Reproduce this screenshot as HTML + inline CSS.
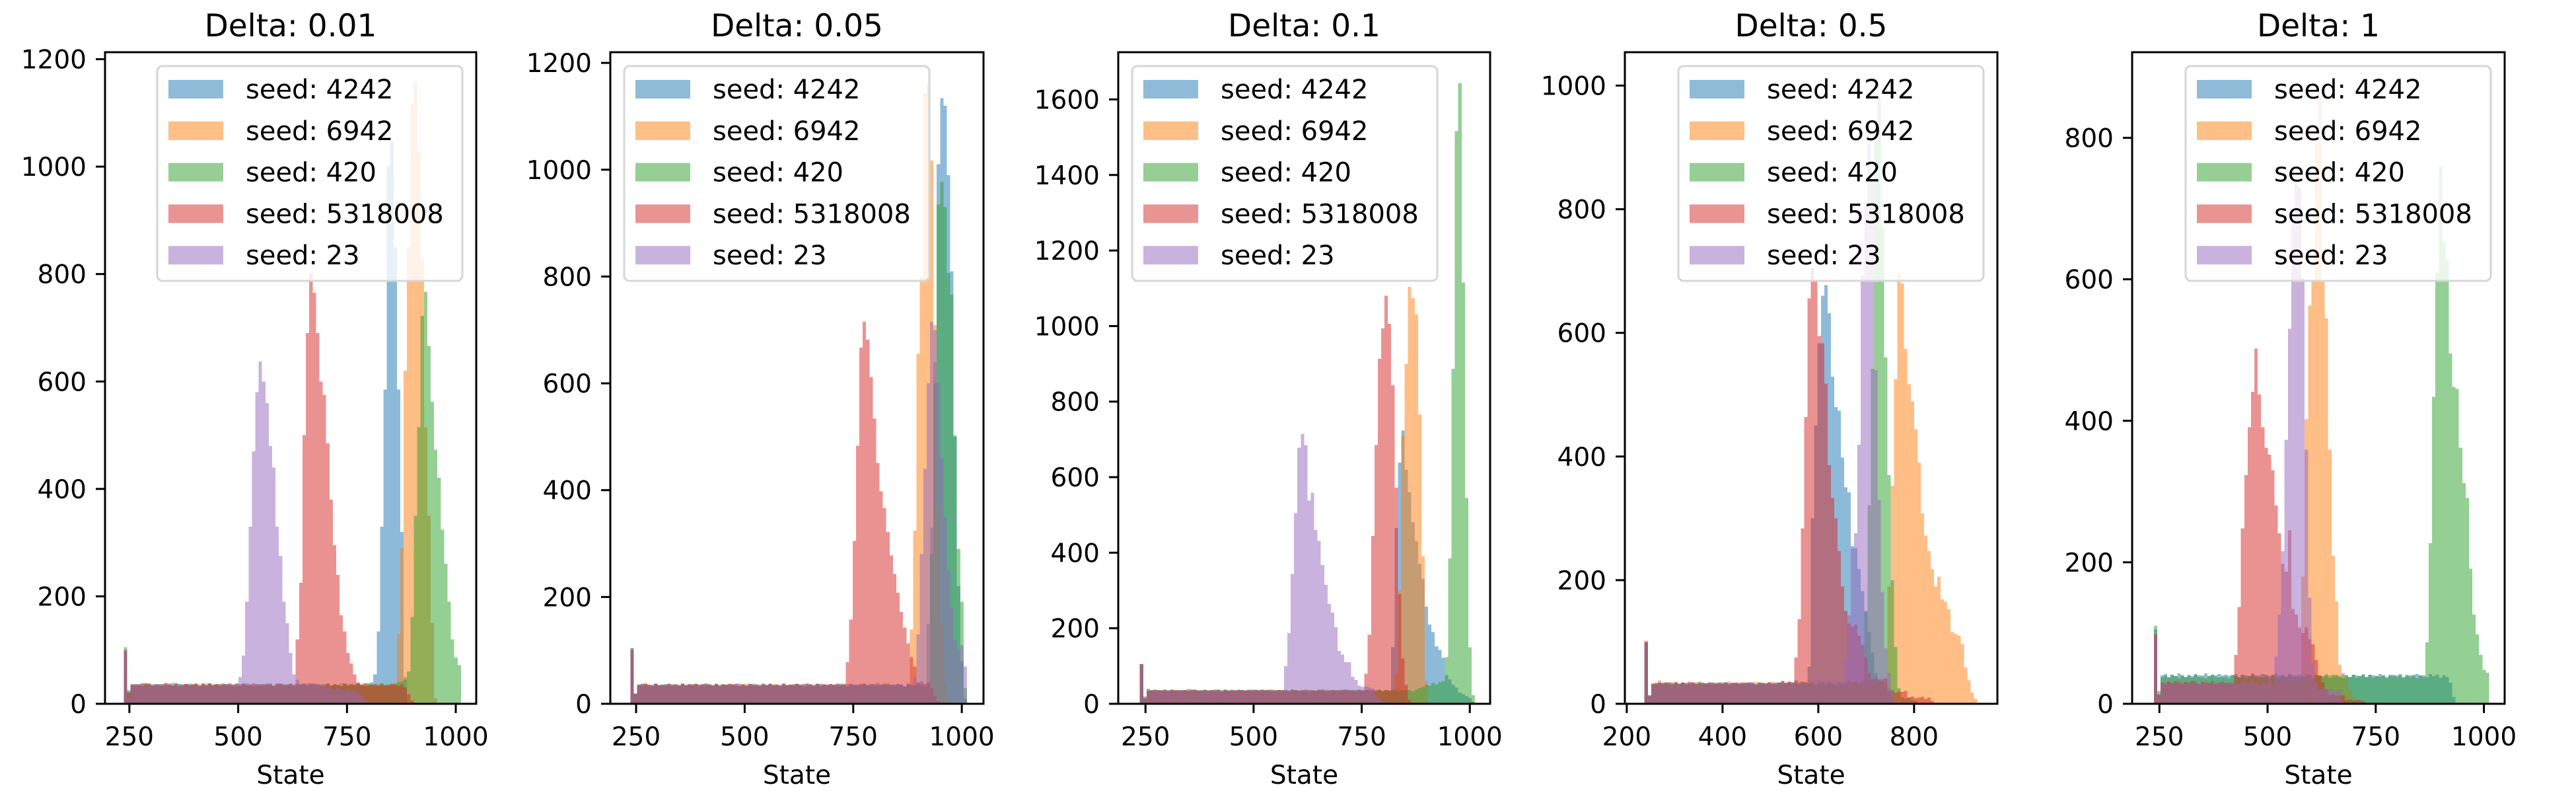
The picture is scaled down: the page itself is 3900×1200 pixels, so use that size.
<!DOCTYPE html>
<html><head><meta charset="utf-8"><style>
html,body{margin:0;padding:0;background:#fff;}
svg{display:block;font-family:"DejaVu Sans","Liberation Sans",sans-serif;}
</style></head><body>
<svg id="chart" width="3900" height="1200" viewBox="0 0 3900 1200" xmlns="http://www.w3.org/2000/svg"></svg>
<script>
const seedLabels = ['seed: 4242','seed: 6942','seed: 420','seed: 5318008','seed: 23'];
const panelTitles = ['Delta: 0.01','Delta: 0.05','Delta: 0.1','Delta: 0.5','Delta: 1'];
const p1Ticks = [0,200,400,600,800,1000,1200];
const p2Ticks = [0,200,400,600,800,1000,1200];
const p3Ticks = [0,200,400,600,800,1000,1200,1400,1600];
const p4Ticks = [0,200,400,600,800,1000];
const p5Ticks = [0,200,400,600,800];
const xTicksA = [250,500,750,1000];
const xTicksB = [200,400,600,800];
const binRange1 = [237,1012];
const binRange2 = [237,1012];
const binRange3 = [237,1012];
const binRange4 = [237,932];
const binRange5 = [237,1012];

// Delta 0.01
const p1_4242 = [95,25,36,33,35,38,34,36,33,37, 35,34,38,36,33,35,37,34,36,35, 33,37,34,36,35,38,33,35,36,34, 37,35,33,36,34,38,35,36,33,37, 34,36,35,38,33,35,37,34,36,35, 33,37,36,34,35,38,34,36,33,35, 37,34,36,35,33,38,35,34,36,37, 35,33,38,40,55,135,330,585,1000,1047, 850,585,320,50,0,0,0,0,0,0, 0,0,0,0,0,0,0,0,0,0];
const p1_6942 = [100,18,37,35,34,36,39,33,35,36, 34,36,33,38,35,37,34,36,35,33, 37,34,36,35,38,33,36,34,37,35, 33,36,35,37,34,38,35,33,36,34, 36,35,38,33,35,37,34,36,35,38, 34,36,33,37,35,34,38,36,33,35, 37,34,36,35,38,33,35,37,34,36, 35,38,33,36,34,37,35,33,36,38, 40,130,290,620,850,1117,1156,1028,826,515, 350,150,10,0,0,0,0,0,0,0];
const p1_420 = [105,22,34,37,35,33,38,36,34,35, 37,33,36,35,39,34,36,33,37,35, 35,38,34,36,33,37,35,36,34,38, 36,33,35,37,34,36,38,35,33,36, 35,37,34,36,33,38,35,36,34,37, 33,36,35,38,34,35,37,33,36,35, 38,34,36,35,33,37,35,36,34,38, 35,33,37,36,34,35,38,34,36,35, 37,40,42,45,60,162,350,515,722,767, 666,562,473,421,324,261,190,120,86,72];
const p1_5318008 = [98,20,35,34,37,33,36,38,34,35, 33,37,35,36,34,39,32,35,37,34, 36,35,33,38,34,36,35,37,33,36, 34,38,35,33,37,36,34,35,38,33, 36,34,37,35,33,36,38,34,35,37, 36,120,225,500,690,800,765,690,600,575, 485,380,295,240,165,135,95,75,55,40, 36,38,34,35,37,33,36,35,34,37, 35,33,36,30,18,6,0,0,0,0, 0,0,0,0,0,0,0,0,0,0];
const p1_23 = [100,12,33,36,34,38,32,35,37,34, 36,33,39,35,34,37,32,36,35,38, 34,36,33,37,35,39,34,32,36,35, 37,34,36,38,50,90,190,330,470,580, 637,600,560,480,440,330,275,190,150,95, 55,45,36,34,38,33,35,37,32,36, 30,28,26,29,27,25,28,24,26,22, 14,8,0,0,0,0,0,0,0,0, 0,0,0,0,0,0,0,0,0,0, 0,0,0,0,0,0,0,0,0,0];

// Delta 0.05
const p2_4242 = [104,20,35,38,34,36,33,37,35,36, 34,37,33,36,35,38,32,36,35,37, 36,33,38,35,34,37,35,33,36,35, 35,38,34,36,33,37,35,36,34,38, 34,37,33,36,35,38,32,36,35,37, 36,33,38,35,34,37,35,33,36,35, 35,38,34,36,33,37,35,36,34,38, 34,37,33,36,35,38,32,36,35,37, 36,33,38,35,34,37,35,33,150,330, 640,1010,1134,1120,990,810,500,220,80,10];
const p2_6942 = [100,16,36,34,37,35,33,38,34,36, 35,33,37,36,34,38,35,33,36,37, 34,36,35,38,33,37,34,36,35,33, 37,35,34,36,38,33,35,37,34,36, 36,34,37,33,35,38,36,34,35,37, 33,36,35,38,34,36,33,37,35,34, 36,38,35,33,37,34,36,35,38,33, 35,37,34,36,33,38,35,36,34,37, 36,33,38,139,324,655,800,1143,1160,1017, 709,370,150,40,5,0,0,0,0,0];
const p2_420 = [104,18,34,36,38,33,35,37,34,36, 37,34,36,33,35,38,34,36,37,35, 33,36,38,35,34,36,33,37,35,38, 36,35,33,37,34,36,38,35,33,36, 34,37,35,36,33,38,34,35,37,36, 35,33,37,36,34,35,38,36,33,37, 34,36,35,38,33,37,35,34,36,38, 35,34,37,33,36,35,38,34,36,35, 36,33,38,35,34,37,35,33,36,280, 600,935,977,930,807,766,503,290,191,30];
const p2_5318008 = [100,18,36,33,38,35,34,37,35,33, 35,38,34,36,33,37,35,36,34,38, 34,37,33,36,35,38,32,36,35,37, 36,33,38,35,34,37,35,33,36,35, 35,38,34,36,33,37,35,36,34,38, 34,37,33,36,35,38,32,36,35,37, 36,33,38,35,78,158,305,483,667,715, 682,612,534,451,398,366,322,278,243,208, 172,143,113,87,70,40,42,38,40,30, 15,5,0,0,0,0,0,0,0,0];
const p2_23 = [102,15,34,37,33,36,35,38,32,36, 35,37,34,37,33,36,35,38,32,36, 36,33,38,35,34,37,35,33,36,35, 35,38,34,36,33,37,35,36,34,38, 34,37,33,36,35,38,32,36,35,37, 36,33,38,35,34,37,35,33,36,35, 35,38,34,36,33,37,35,36,34,38, 34,37,33,40,35,38,32,36,35,37, 36,33,38,35,50,130,280,440,600,715, 700,600,460,350,250,180,120,100,110,70];

// Delta 0.1
const p3_4242 = [105,16,36,34,37,33,35,38,34,36, 35,33,37,36,34,38,35,33,36,37, 34,36,35,38,33,37,34,36,35,33, 37,35,34,36,38,33,35,37,34,36, 36,34,37,33,35,38,36,34,35,37, 33,36,35,38,34,36,33,37,35,34, 36,38,35,33,37,34,36,35,38,33, 34,37,33,36,35,150,465,639,723,619, 560,480,430,371,331,257,210,190,152,143, 122,76,65,50,43,30,25,20,15,5];
const p3_6942 = [106,14,35,37,34,36,33,38,35,34, 37,35,33,36,34,38,36,35,33,37, 34,36,38,35,33,37,35,34,36,38, 35,33,37,36,34,35,38,33,36,35, 37,34,36,35,33,38,34,36,37,35, 33,36,35,37,34,38,35,33,36,34, 36,35,38,34,33,37,35,36,34,38, 34,37,33,36,35,38,80,300,709,900, 1104,1074,1031,766,390,60,0,0,0,0, 0,0,0,0,0,0,0,0,0,0];
const p3_420 = [104,20,40,36,38,35,37,34,36,38, 35,37,34,36,39,35,37,36,34,38, 36,35,38,34,37,36,35,38,34,36, 37,35,36,38,34,37,35,36,38,34, 36,37,35,38,34,36,37,35,36,38, 34,36,35,37,38,34,36,35,37,36, 38,34,36,37,35,38,34,36,35,37, 36,38,34,37,35,36,38,34,36,35, 36,33,38,42,45,50,48,55,52,58, 60,123,385,887,1516,1643,1115,545,150,23];
const p3_5318008 = [105,14,34,36,33,37,35,36,34,38, 36,34,35,37,33,36,38,35,34,36, 35,37,34,36,33,38,35,34,36,37, 34,36,35,33,37,35,38,34,36,35, 33,37,35,36,34,38,35,33,36,34, 37,35,34,36,38,33,35,37,34,36, 35,38,34,36,33,37,35,80,183,444, 685,913,994,1080,1006,843,572,290,120,50, 10,0,0,0,0,0,0,0,0,0, 0,0,0,0,0,0,0,0,0,0];
const p3_23 = [105,14,35,33,37,36,34,38,35,36, 33,37,35,34,36,38,33,35,37,36, 34,36,35,38,33,37,36,34,35,37, 36,33,38,35,34,37,35,36,34,38, 35,37,34,100,187,344,505,678,715,685, 538,559,460,431,367,315,264,241,203,140, 130,110,110,72,63,48,45,46,44,40, 22,15,8,0,0,0,0,0,0,0, 0,0,0,0,0,0,0,0,0,0, 0,0,0,0,0,0,0,0,0,0];

// Delta 0.5
const p4_4242 = [100,14,30,33,31,34,32,35,30,33, 32,34,31,33,35,30,32,34,33,31, 34,32,30,33,35,31,34,32,33,30, 33,35,31,32,34,30,33,35,32,34, 34,37,33,36,35,38,32,36,35,60, 300,450,583,660,677,632,529,480,474,398, 350,342,255,252,218,182,149,116,83,50, 40,35,30,25,10,0,0,0,0,0, 0,0,0,0,0,0,0,0,0,0, 0,0,0,0,0,0,0,0,0,0];
const p4_6942 = [102,12,32,34,38,31,33,35,32,36, 31,34,33,36,32,35,30,34,33,32, 35,31,34,33,32,36,31,33,35,32, 34,30,33,35,31,34,32,33,36,31, 33,35,32,34,31,33,36,32,34,33, 35,31,33,34,32,35,33,31,34,33, 32,34,36,31,33,35,32,34,33,31, 34,37,40,190,353,525,697,680,574,517, 489,444,390,308,272,247,218,190,206,169, 165,153,116,113,110,97,59,38,18,8];
const p4_420 = [100,14,31,33,34,32,35,31,33,34, 32,35,33,31,34,32,36,33,31,34, 33,32,35,31,34,33,32,34,31,35, 32,34,33,31,35,32,33,34,31,33, 35,32,34,33,31,34,32,35,33,32, 34,31,33,35,32,34,33,31,34,33, 35,38,34,36,33,37,150,321,542,910, 980,770,560,370,200,92,25,10,8,10, 6,5,0,0,0,0,0,0,0,0, 0,0,0,0,0,0,0,0,0,0];
const p4_5318008 = [100,12,33,31,34,32,35,33,31,34, 32,34,31,35,33,32,34,31,33,35, 31,34,33,32,35,31,33,34,32,33, 34,32,35,31,33,34,32,35,33,31, 34,37,33,36,35,75,137,284,464,656, 705,685,595,583,518,386,333,300,247,190, 150,130,125,128,110,95,75,50,40,42, 38,40,41,20,22,18,20,19,21,10, 12,9,10,11,8,10,5,0,0,0, 0,0,0,0,0,0,0,0,0,0];
const p4_23 = [100,10,30,33,32,34,31,33,35,32, 33,31,34,32,35,33,31,34,32,33, 34,32,31,35,33,32,34,31,33,34, 32,35,33,31,34,32,33,35,31,34, 33,32,34,31,35,33,32,34,33,31, 36,33,38,35,34,37,35,33,36,35, 75,143,251,276,419,693,812,906,850,540, 330,180,90,50,20,0,0,0,0,0, 0,0,0,0,0,0,0,0,0,0, 0,0,0,0,0,0,0,0,0,0];

// Delta 1
const p5_4242 = [105,14,40,42,38,41,39,43,40,38, 41,39,42,40,38,43,39,41,40,42, 38,41,39,40,42,38,41,40,39,43, 40,38,42,41,39,40,43,38,41,39, 42,40,38,41,39,42,40,38,41,40, 39,42,40,38,41,39,43,40,38,41, 40,39,42,38,41,40,39,42,40,38, 41,39,40,42,38,41,40,39,42,40, 40,38,42,39,41,37,40,38,30,10, 0,0,0,0,0,0,0,0,0,0];
const p5_6942 = [98,10,30,28,32,29,31,33,28,30, 32,29,31,28,30,33,29,31,30,28, 31,30,29,32,28,31,30,29,31,30, 28,32,30,29,31,28,30,32,29,31, 30,27,31,28,180,402,563,598,792,856, 598,545,359,209,145,55,40,35,20,10, 5,0,0,0,0,0,0,0,0,0, 0,0,0,0,0,0,0,0,0,0, 0,0,0,0,0,0,0,0,0,0, 0,0,0,0,0,0,0,0,0,0];
const p5_420 = [110,18,38,40,37,41,39,36,40,38, 39,37,41,38,40,36,39,41,38,37, 40,38,36,41,39,38,40,37,39,41, 38,40,37,39,36,41,38,40,39,37, 41,38,40,37,39,38,41,36,40,39, 38,40,37,41,39,38,36,40,38,41, 37,39,40,38,41,37,39,38,40,36, 39,41,38,40,37,39,38,41,36,40, 38,87,227,434,609,759,652,627,495,448, 445,362,312,291,191,126,98,69,48,44];
const p5_5318008 = [98,12,30,28,31,29,32,30,28,31, 29,32,30,28,31,30,29,32,28,30, 31,29,30,28,69,137,248,323,391,441, 502,437,391,362,352,330,280,241,198,187, 245,134,126,108,100,108,91,84,62,40, 30,20,12,13,11,12,12,5,6,4, 5,5,4,0,0,0,0,0,0,0, 0,0,0,0,0,0,0,0,0,0, 0,0,0,0,0,0,0,0,0,0, 0,0,0,0,0,0,0,0,0,0];
const p5_23 = [96,10,29,31,28,30,32,29,31,28, 30,29,32,28,31,30,28,31,29,30, 32,28,30,31,29,28,31,30,29,32, 30,27,31,28,32,29,67,126,216,373, 530,680,734,730,602,359,150,60,30,20, 22,19,21,20,18,20,0,0,0,0, 0,0,0,0,0,0,0,0,0,0, 0,0,0,0,0,0,0,0,0,0, 0,0,0,0,0,0,0,0,0,0, 0,0,0,0,0,0,0,0,0,0];

const colors = ['#1f77b4','#ff7f0e','#2ca02c','#d62728','#9467bd'];
const TOP = 79, BOTTOM = 1065;
const panels = [
  {left:159, right:721, xmin:194, xmax:1047, ymax:1213, yTicks:p1Ticks, xTicks:xTicksA, bins:binRange1, series:[p1_4242,p1_6942,p1_420,p1_5318008,p1_23], legendRight:true},
  {left:924, right:1489, xmin:190.6, xmax:1050, ymax:1220, yTicks:p2Ticks, xTicks:xTicksA, bins:binRange2, series:[p2_4242,p2_6942,p2_420,p2_5318008,p2_23], legendRight:false},
  {left:1693, right:2256, xmin:187, xmax:1047, ymax:1725, yTicks:p3Ticks, xTicks:xTicksA, bins:binRange3, series:[p3_4242,p3_6942,p3_420,p3_5318008,p3_23], legendRight:false},
  {left:2460, right:3024, xmin:196, xmax:974, ymax:1054, yTicks:p4Ticks, xTicks:xTicksB, bins:binRange4, series:[p4_4242,p4_6942,p4_420,p4_5318008,p4_23], legendRight:true},
  {left:3228, right:3792, xmin:187, xmax:1048, ymax:921, yTicks:p5Ticks, xTicks:xTicksA, bins:binRange5, series:[p5_4242,p5_6942,p5_420,p5_5318008,p5_23], legendRight:true}
];
const NS = 'http://www.w3.org/2000/svg';
const svg = document.getElementById('chart');
function mk(tag, attrs, parent){
  const e = document.createElementNS(NS, tag);
  for (const k in attrs) e.setAttribute(k, attrs[k]);
  parent.appendChild(e);
  return e;
}
panels.forEach((p, pi) => {
  const sx = v => p.left + (v - p.xmin) / (p.xmax - p.xmin) * (p.right - p.left);
  const sy = v => BOTTOM - v / p.ymax * (BOTTOM - TOP);
  const g = mk('g', {}, svg);
  
  
  p.series.forEach((arr, si) => {
    const sg = mk('g', {opacity: 0.5, fill: colors[si], 'shape-rendering': 'crispEdges'}, g);
    
    
    const lo = p.bins[0], hi = p.bins[1], w = (hi - lo) / arr.length;
    arr.forEach((v, i) => {
      if (v <= 0) return;
      const x0 = sx(lo + i * w), x1 = sx(lo + (i + 1) * w);
      const r = mk('rect', {x: x0, y: sy(v), width: x1 - x0, height: BOTTOM - sy(v)}, sg);
      
      
    });
  });
  // spines
  const frame = mk('rect', {x: p.left, y: TOP, width: p.right - p.left, height: BOTTOM - TOP, fill: 'none', stroke: '#000', 'stroke-width': 3}, g);
  
  
  // y ticks
  p.yTicks.forEach(t => {
    const y = sy(t);
    mk('line', {x1: p.left - 14, x2: p.left, y1: y, y2: y, stroke: '#000', 'stroke-width': 3}, g);
    const tx = mk('text', {x: p.left - 28, y: y + 14, 'text-anchor': 'end', 'font-size': 39, fill: '#000'}, g);
    tx.textContent = t;
    
    
  });
  p.xTicks.forEach(t => {
    const x = sx(t);
    mk('line', {x1: x, x2: x, y1: BOTTOM, y2: BOTTOM + 14, stroke: '#000', 'stroke-width': 3}, g);
    const tx = mk('text', {x: x, y: 1128, 'text-anchor': 'middle', 'font-size': 39, fill: '#000'}, g);
    tx.textContent = t;
    
    
  });
  const title = mk('text', {x: (p.left + p.right) / 2, y: 55, 'text-anchor': 'middle', 'font-size': 47, fill: '#000'}, g);
  title.textContent = panelTitles[pi];
  
  
  const xl = mk('text', {x: (p.left + p.right) / 2, y: 1186, 'text-anchor': 'middle', 'font-size': 39, fill: '#000'}, g);
  xl.textContent = 'State';
  
  
  // legend
  const LW = 462, LH = 325;
  const lx = p.legendRight ? p.right - 21 - LW : p.left + 21;
  const lg = mk('g', {}, g);
  
  
  mk('rect', {x: lx, y: 100, width: LW, height: LH, rx: 8, fill: '#fff', 'fill-opacity': 0.8, stroke: '#d6d6d6', 'stroke-width': 3}, lg);
  seedLabels.forEach((lab, k) => {
    const cy = 135 + 62.8 * k;
    const ent = mk('g', {}, lg);
    
    
    mk('rect', {x: lx + 17, y: cy - 14, width: 83, height: 28, fill: colors[k], 'fill-opacity': 0.5}, ent);
    const t = mk('text', {x: lx + 134, y: cy + 14, 'font-size': 40, fill: '#000'}, ent);
    t.textContent = lab;
  });
});
</script>
</body></html>
